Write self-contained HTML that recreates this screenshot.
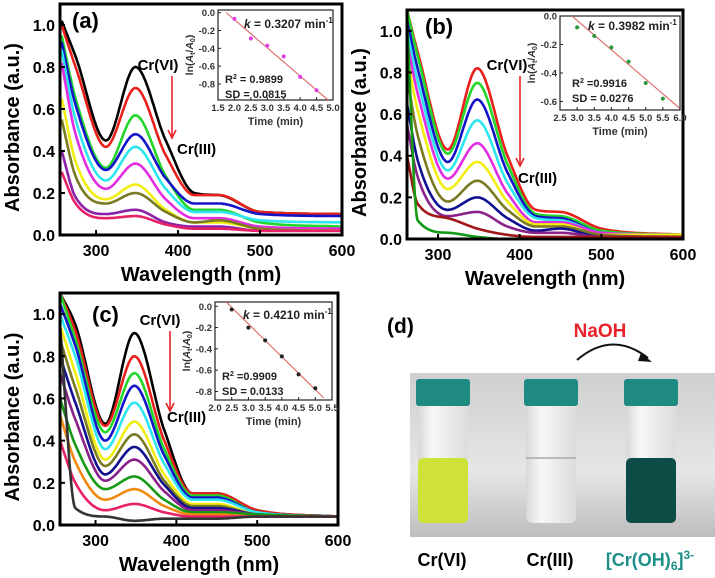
<!DOCTYPE html>
<html><head><meta charset="utf-8"><style>
body{margin:0;background:#fff;width:715px;height:578px;overflow:hidden}
svg{display:block}
text{font-family:"Liberation Sans",Arial,sans-serif}
</style></head><body>
<svg id="fig" width="715" height="578" viewBox="0 0 715 578" xmlns="http://www.w3.org/2000/svg">
<defs>
<linearGradient id="bg" x1="0" y1="0" x2="0" y2="1"><stop offset="0" stop-color="#cfcfcf"/><stop offset="0.6" stop-color="#e6e6e6"/><stop offset="1" stop-color="#bdbdbd"/></linearGradient>
<linearGradient id="glass" x1="0" y1="0" x2="1" y2="0"><stop offset="0" stop-color="#d8d8d8"/><stop offset="0.3" stop-color="#f7f7f7"/><stop offset="1" stop-color="#dcdcdc"/></linearGradient>
</defs>
<g id="pd">
<text x="387" y="333" font-size="21" font-weight="bold">(d)</text>
<text x="600" y="337" font-size="19" font-weight="bold" fill="#e8242a" text-anchor="middle">NaOH</text>
<path d="M577 360 Q612 330 648 358" fill="none" stroke="#111" stroke-width="2"/>
<path d="M641 353 L652 362 L638 361 Z" fill="#111"/>
<rect x="410" y="373" width="305" height="164" fill="url(#bg)"/>
<g>
<rect x="418" y="403" width="50" height="120" rx="6" fill="url(#glass)"/>
<rect x="418" y="458" width="50" height="65" rx="5" fill="#cfe23a"/>
<rect x="416" y="379" width="54" height="27" rx="3" fill="#1f8a82"/></g>
<g>
<rect x="526" y="403" width="50" height="120" rx="6" fill="url(#glass)"/>
<line x1="526" y1="458" x2="576" y2="458" stroke="#aaa" stroke-width="1.5"/>
<rect x="524" y="379" width="54" height="27" rx="3" fill="#1f8a82"/></g>
<g>
<rect x="626" y="403" width="50" height="120" rx="6" fill="url(#glass)"/>
<rect x="626" y="458" width="50" height="65" rx="5" fill="#0d4b47"/>
<rect x="624" y="379" width="54" height="27" rx="3" fill="#1f8a82"/></g>
<text x="442" y="566" font-size="18" font-weight="bold" text-anchor="middle">Cr(VI)</text>
<text x="550" y="566" font-size="18" font-weight="bold" text-anchor="middle">Cr(III)</text>
<text x="650" y="566" font-size="18" font-weight="bold" fill="#1b8f88" text-anchor="middle">[Cr(OH)<tspan font-size="12" dy="4">6</tspan><tspan dy="-4">]</tspan><tspan font-size="12" dy="-7">3-</tspan></text>
</g>
</svg>
<script>
// shared wavelength grid
const W = [258,275,312,348,385,420,450,500,600];
const WB = [262,275,312,348,385,420,450,500,600];
const WC = [256,275,312,348,385,420,450,500,600];
// panel a
const colorsA = ['#000','#e8201c','#22d62a','#1515c8','#2ee6ee','#e02ee0','#f2ee10','#7a7a22','#8a22a8','#e8226a'];
const seriesA = [
[1.02,0.85,0.45,0.80,0.45,0.20,0.19,0.11,0.10],
[1.0,0.80,0.42,0.70,0.38,0.19,0.19,0.11,0.10],
[0.95,0.65,0.32,0.57,0.28,0.12,0.12,0.06,0.04],
[0.92,0.62,0.31,0.48,0.27,0.15,0.15,0.10,0.09],
[0.88,0.55,0.26,0.42,0.22,0.11,0.11,0.07,0.06],
[0.82,0.48,0.22,0.34,0.17,0.08,0.08,0.04,0.03],
[0.65,0.35,0.17,0.24,0.12,0.06,0.06,0.03,0.02],
[0.55,0.28,0.15,0.20,0.11,0.06,0.07,0.03,0.02],
[0.40,0.18,0.10,0.12,0.06,0.04,0.04,0.02,0.02],
[0.30,0.15,0.08,0.09,0.05,0.03,0.03,0.02,0.02]];
// panel b
const colorsB = ['#e8201c','#22d62a','#1515c8','#2ee6ee','#e02ee0','#f2ee10','#7a7a22','#101090','#8a228a','#a01818','#159a15'];
const seriesB = [
[1.1,0.9,0.43,0.82,0.40,0.14,0.13,0.05,0.02],
[1.1,0.88,0.41,0.75,0.36,0.12,0.11,0.04,0.02],
[1.05,0.82,0.37,0.67,0.32,0.11,0.10,0.03,0.02],
[1.0,0.76,0.33,0.57,0.27,0.10,0.09,0.03,0.02],
[0.95,0.70,0.29,0.46,0.22,0.08,0.08,0.03,0.02],
[0.88,0.62,0.24,0.37,0.18,0.07,0.07,0.02,0.02],
[0.78,0.50,0.18,0.28,0.14,0.06,0.06,0.02,0.01],
[0.65,0.38,0.14,0.20,0.10,0.04,0.05,0.01,0.01],
[0.55,0.30,0.11,0.13,0.06,0.03,0.03,0.01,0.01],
[0.40,0.17,0.10,0.05,0.02,0.01,0.01,0.01,0.01],
[1.05,0.09,0.03,0.01,0.0,0.0,0.0,0.0,0.0]];
// panel c
const colorsC = ['#000','#e8201c','#22d62a','#1515c8','#2ee6ee','#f2ee10','#7a7a22','#101090','#8a228a','#159a15','#f08a10','#e8226a','#333'];
const seriesC = [
[1.1,0.95,0.48,0.91,0.45,0.15,0.15,0.07,0.04],
[1.1,0.92,0.47,0.80,0.40,0.15,0.15,0.07,0.04],
[1.1,0.88,0.44,0.72,0.36,0.14,0.14,0.06,0.04],
[1.05,0.85,0.40,0.66,0.33,0.13,0.13,0.06,0.04],
[1.0,0.80,0.36,0.58,0.29,0.12,0.12,0.06,0.04],
[0.95,0.72,0.31,0.49,0.24,0.10,0.10,0.05,0.04],
[0.88,0.65,0.28,0.43,0.21,0.09,0.09,0.05,0.04],
[0.80,0.58,0.24,0.37,0.19,0.08,0.08,0.05,0.04],
[0.72,0.50,0.21,0.31,0.16,0.07,0.07,0.05,0.04],
[0.60,0.38,0.17,0.23,0.12,0.06,0.06,0.05,0.04],
[0.52,0.30,0.12,0.17,0.09,0.05,0.05,0.04,0.04],
[0.40,0.20,0.07,0.10,0.06,0.04,0.04,0.04,0.04],
[0.95,0.08,0.04,0.02,0.03,0.03,0.03,0.04,0.04]];
const xTicks = [300,400,500,600];
const yTicks = [0.0,0.2,0.4,0.6,0.8,1.0];
// insets
const timeA = [2.0,2.5,3.0,3.5,4.0,4.5];
const lnA = [-0.07,-0.29,-0.37,-0.49,-0.72,-0.87];
const fitA = [[1.75,0.0],[4.85,-0.98]];
const timeB = [3.0,3.5,4.0,4.5,5.0,5.5];
const lnB = [-0.08,-0.14,-0.22,-0.32,-0.47,-0.58];
const fitB = [[2.85,0.0],[6.0,-0.65]];
const timeC = [2.5,3.0,3.5,4.0,4.5,5.0];
const lnC = [-0.03,-0.2,-0.32,-0.47,-0.64,-0.77];
const fitC = [[2.3,0.05],[5.25,-0.86]];
const insetXTicksA = [1.5,2.0,2.5,3.0,3.5,4.0,4.5,5.0];
const insetXTicksB = [2.5,3.0,3.5,4.0,4.5,5.0,5.5,6.0];
const insetXTicksC = [2.0,2.5,3.0,3.5,4.0,4.5,5.0,5.5];
const insetYTicksA = [0.0,-0.2,-0.4,-0.6,-0.8];
const insetYTicksB = [0.0,-0.2,-0.4,-0.6];
const insetYTicksC = [0.0,-0.2,-0.4,-0.6,-0.8];

const NS='http://www.w3.org/2000/svg';
const svg=document.getElementById('fig');
function mk(tag,attrs,parent){const e=document.createElementNS(NS,tag);for(const k in attrs)e.setAttribute(k,attrs[k]);(parent||svg).appendChild(e);return e;}
function monotone(xs,ys){
  const n=xs.length,d=[],m=[];
  for(let i=0;i<n-1;i++)d.push((ys[i+1]-ys[i])/(xs[i+1]-xs[i]));
  m[0]=d[0];m[n-1]=d[n-2];
  for(let i=1;i<n-1;i++){m[i]=(d[i-1]*d[i]<=0)?0:(d[i-1]+d[i])/2;}
  for(let i=0;i<n-1;i++){if(d[i]===0){m[i]=m[i+1]=0;continue;}const a=m[i]/d[i],b=m[i+1]/d[i],s=a*a+b*b;if(s>9){const t=3/Math.sqrt(s);m[i]=t*a*d[i];m[i+1]=t*b*d[i];}}
  return x=>{let i=0;while(i<n-2&&x>xs[i+1])i++;const h=xs[i+1]-xs[i],t=(x-xs[i])/h,t2=t*t,t3=t2*t;
    return (2*t3-3*t2+1)*ys[i]+(t3-2*t2+t)*h*m[i]+(-2*t3+3*t2)*ys[i+1]+(t3-t2)*h*m[i+1];};
}
function panel(cfg){
  const g=mk('g',{});
  
  
  const sx=v=>cfg.L+(v-cfg.x0)/(cfg.x1-cfg.x0)*(cfg.R-cfg.L);
  const sy=v=>cfg.B-(v-0)/(1.1)*(cfg.B-cfg.T);
  const cid='clip'+cfg.id;
  const cp=mk('clipPath',{id:cid},g);mk('rect',{x:cfg.L,y:cfg.T,width:cfg.R-cfg.L,height:cfg.B-cfg.T},cp);
  const cg=mk('g',{'clip-path':'url(#'+cid+')'},g);
  cfg.series.forEach((s,i)=>{
    const f=monotone(cfg.W,s);let d='';
    for(let x=cfg.W[0];x<=600;x+=1){d+=(d?'L':'M')+sx(x).toFixed(1)+' '+sy(f(x)).toFixed(1);}
    const p=mk('path',{d:d,fill:'none',stroke:cfg.colors[i],'stroke-width':2.6},cg);
    
    
  });
  mk('rect',{x:cfg.L,y:cfg.T,width:cfg.R-cfg.L,height:cfg.B-cfg.T,fill:'none',stroke:'#000','stroke-width':3},g);
  xTicks.forEach(t=>{const x=sx(t);mk('line',{x1:x,y1:cfg.B,x2:x,y2:cfg.B-5,stroke:'#000','stroke-width':2},g);
    const tx=mk('text',{x:x,y:cfg.B+21,'font-size':16,'font-weight':'bold','text-anchor':'middle'},g);tx.textContent=t;
    });
  yTicks.forEach(t=>{const y=sy(t);mk('line',{x1:cfg.L,y1:y,x2:cfg.L+5,y2:y,stroke:'#000','stroke-width':2},g);
    const tx=mk('text',{x:cfg.L-5,y:y+6,'font-size':16,'font-weight':'bold','text-anchor':'end'},g);tx.textContent=t.toFixed(1);
    });
  const xt=mk('text',{x:(cfg.L+cfg.R)/2,y:cfg.B+46,'font-size':20,'font-weight':'bold','text-anchor':'middle'},g);xt.textContent='Wavelength (nm)';
  
  const yt=mk('text',{x:0,y:0,'font-size':20,'font-weight':'bold','text-anchor':'middle',transform:`translate(${cfg.L-41},${(cfg.T+cfg.B)/2+8}) rotate(-90)`},g);yt.textContent='Absorbance (a.u.)';
  
  const pl=mk('text',{x:cfg.lab[0],y:cfg.lab[1],'font-size':22,'font-weight':'bold'},g);pl.textContent=cfg.label;
  
  const c6=mk('text',{x:cfg.arr[0],y:cfg.arr[1],'font-size':15,'font-weight':'bold','text-anchor':'middle'},g);c6.textContent='Cr(VI)';
  
  mk('line',{x1:cfg.arr[2],y1:cfg.arr[1]+6,x2:cfg.arr[2],y2:cfg.arr[3]-2,stroke:'#e8242a','stroke-width':1.6},g);
  mk('path',{d:`M${cfg.arr[2]-4} ${cfg.arr[3]-10} L${cfg.arr[2]} ${cfg.arr[3]-2} L${cfg.arr[2]+4} ${cfg.arr[3]-10}`,fill:'none',stroke:'#e8242a','stroke-width':1.6},g);
  const c3=mk('text',{x:cfg.arr[4],y:cfg.arr[5],'font-size':15,'font-weight':'bold'},g);c3.textContent='Cr(III)';
  
  // inset
  const I=cfg.inset;
  const ig=mk('g',{},g);
  
  
  const ix=v=>I.L+(v-I.x0)/(I.x1-I.x0)*(I.R-I.L);
  const iy=v=>I.T+(I.y0-v)/(I.y0-I.y1)*(I.B-I.T);
  mk('rect',{x:I.L,y:I.T,width:I.R-I.L,height:I.B-I.T,fill:'#fff',stroke:'#222','stroke-width':1.2},ig);
  const icp=mk('clipPath',{id:cid+'i'},ig);mk('rect',{x:I.L,y:I.T,width:I.R-I.L,height:I.B-I.T},icp);
  mk('line',{x1:ix(I.fit[0][0]),y1:iy(I.fit[0][1]),x2:ix(I.fit[1][0]),y2:iy(I.fit[1][1]),stroke:'#e07070','stroke-width':1.2,'clip-path':'url(#'+cid+'i)'},ig);
  I.tx.forEach((t,i)=>{const c=mk('circle',{cx:ix(t),cy:iy(I.ty[i]),r:2,fill:I.pc},ig);});
  I.xt.forEach(t=>{const x=ix(t);mk('line',{x1:x,y1:I.B,x2:x,y2:I.B-3,stroke:'#222'},ig);
    const tx=mk('text',{x:x,y:I.B+11,'font-size':9.5,'font-weight':'bold','text-anchor':'middle',fill:'#333'},ig);tx.textContent=t.toFixed(1);});
  I.yt.forEach(t=>{const y=iy(t);mk('line',{x1:I.L,y1:y,x2:I.L+3,y2:y,stroke:'#222'},ig);
    const tx=mk('text',{x:I.L-3,y:y+3.5,'font-size':9.5,'font-weight':'bold','text-anchor':'end',fill:'#333'},ig);tx.textContent=t.toFixed(1);});
  const tt=mk('text',{x:(I.L+I.R)/2,y:I.B+25,'font-size':11,'font-weight':'bold','text-anchor':'middle',fill:'#333'},ig);tt.textContent='Time (min)';
  const ly=mk('text',{x:0,y:0,'font-size':10.5,'font-weight':'bold','text-anchor':'middle',fill:'#333',transform:`translate(${I.L-25},${(I.T+I.B)/2}) rotate(-90)`},ig);
  ly.innerHTML='ln(<tspan font-style="italic">A</tspan><tspan font-size="7" dy="2">t</tspan><tspan dy="-2">/</tspan><tspan font-style="italic">A</tspan><tspan font-size="7" dy="2">0</tspan><tspan dy="-2">)</tspan>';
  const kt=mk('text',{x:I.k[0],y:I.k[1],'font-size':12,'font-weight':'bold',fill:'#222'},ig);
  kt.innerHTML='<tspan font-style="italic">k</tspan> = '+I.kv+' min<tspan font-size="8" dy="-5">-1</tspan>';
  const r2=mk('text',{x:I.r[0],y:I.r[1],'font-size':11,'font-weight':'bold',fill:'#222'},ig);
  r2.innerHTML='R<tspan font-size="7" dy="-4">2</tspan><tspan dy="4"> '+I.r2+'</tspan>';
  const sd=mk('text',{x:I.r[0],y:I.r[1]+15,'font-size':11,'font-weight':'bold',fill:'#222'},ig);sd.textContent='SD = '+I.sd;
}
panel({id:'a',name:'panel-a-chart',label:'(a)',lab:[72,28],L:60,R:342,T:4,B:235,x0:256,x1:600,W:W,series:seriesA,colors:colorsA,arr:[158,70,172,140,177,154],
  inset:{L:218,R:333,T:10,B:100,x0:1.5,x1:5.0,y0:0.03,y1:-0.98,tx:timeA,ty:lnA,fit:fitA,pc:'#e040e0',xt:insetXTicksA,yt:insetYTicksA,k:[244,28],kv:'0.3207',r:[225,83],r2:'= 0.9899',sd:'0.0815'}});
panel({id:'b',name:'panel-b-chart',label:'(b)',lab:[425,34],L:407,R:683,T:10,B:239,x0:262,x1:600,W:WB,series:seriesB,colors:colorsB,arr:[507,70,520,168,518,183],
  inset:{L:560,R:680,T:16,B:110,x0:2.5,x1:6.0,y0:0.0,y1:-0.66,tx:timeB,ty:lnB,fit:fitB,pc:'#2a9a3a',xt:insetXTicksB,yt:insetYTicksB,k:[588,30],kv:'0.3982',r:[572,87],r2:'=0.9916',sd:'0.0276'}});
panel({id:'c',name:'panel-c-chart',label:'(c)',lab:[92,322],L:60,R:338,T:293,B:525,x0:256,x1:600,W:WC,series:seriesC,colors:colorsC,arr:[160,325,170,413,167,422],
  inset:{L:215,R:332,T:302,B:400,x0:2.0,x1:5.5,y0:0.04,y1:-0.88,tx:timeC,ty:lnC,fit:fitC,pc:'#222',xt:insetXTicksC,yt:insetYTicksC,k:[243,319],kv:'0.4210',r:[222,380],r2:'=0.9909',sd:'0.0133'}});
</script>
</body></html>
